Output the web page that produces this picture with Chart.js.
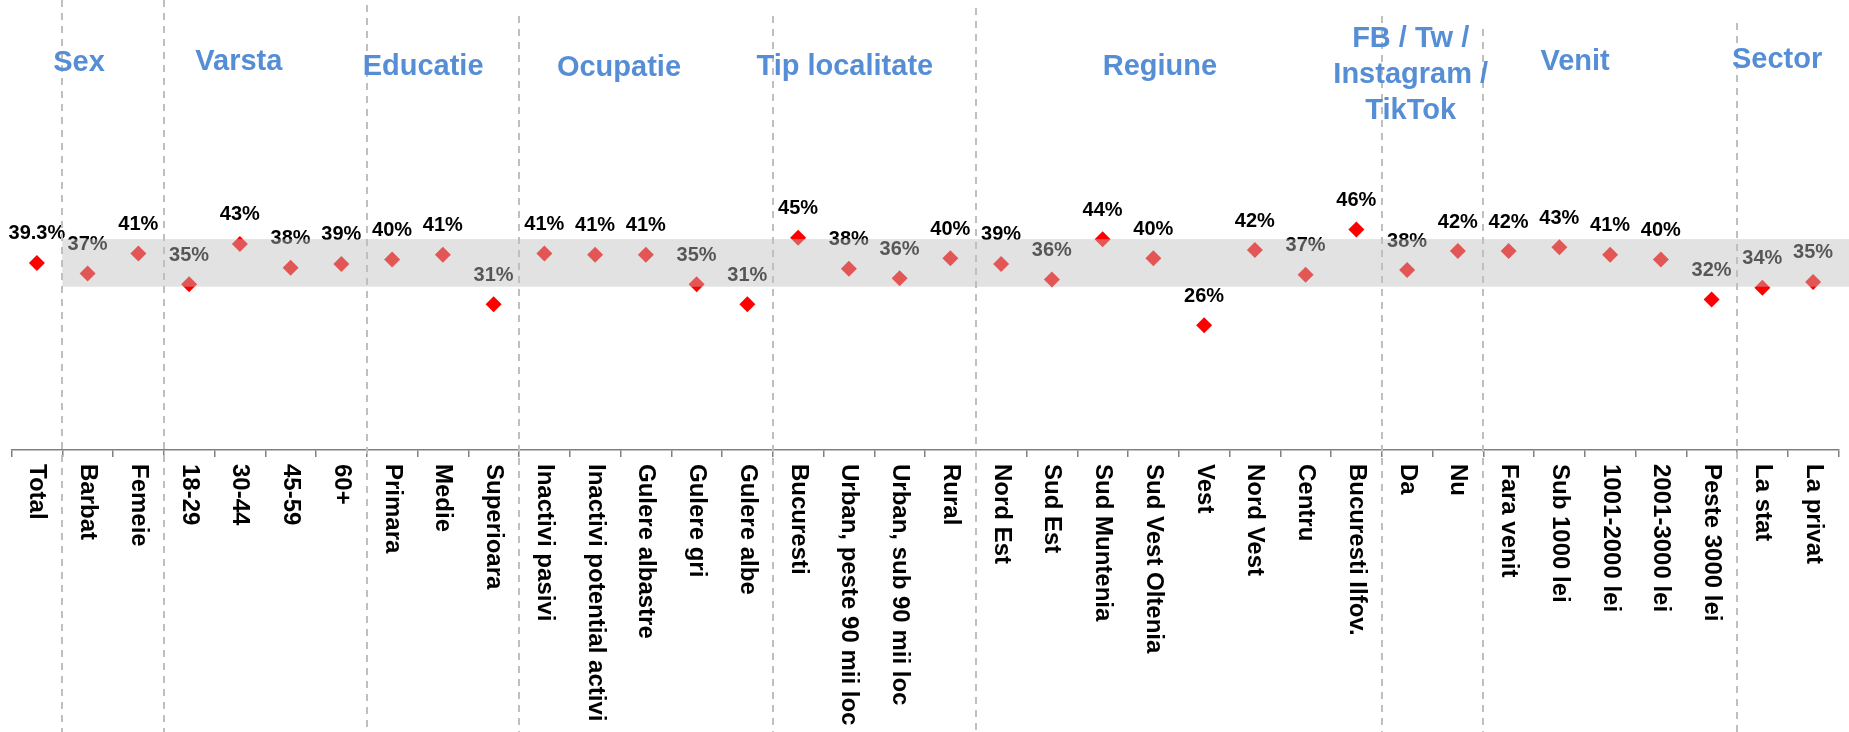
<!DOCTYPE html>
<html><head><meta charset="utf-8">
<script src="https://cdn.jsdelivr.net/npm/chart.js@4/dist/chart.umd.min.js"></script>
<style>html,body{margin:0;padding:0;background:#fff;}#wrap{width:1849px;height:732px;position:relative;}</style>
</head><body><div id="wrap"><canvas id="c"></canvas></div>
<script>
// ---- data ----
const categories = ['Total','Barbat','Femeie','18-29','30-44','45-59','60+','Primara','Medie','Superioara',
  'Inactivi pasivi','Inactivi potential activi','Gulere albastre','Gulere gri','Gulere albe',
  'Bucuresti','Urban, peste 90 mii loc','Urban, sub 90 mii loc','Rural',
  'Nord Est','Sud Est','Sud Muntenia','Sud Vest Oltenia','Vest','Nord Vest','Centru','Bucuresti Ilfov.',
  'Da','Nu','Fara venit','Sub 1000 lei','1001-2000 lei','2001-3000 lei','Peste 3000 lei','La stat','La privat'];
const values = [39.3, 37.1, 41.3, 34.8, 43.3, 38.3, 39.1, 40.0, 41.0, 30.6,
  41.3, 41.0, 41.0, 34.8, 30.6,
  44.6, 38.1, 36.1, 40.3,
  39.1, 35.8, 44.3, 40.3, 26.2, 42.0, 36.8, 46.3,
  37.8, 41.8, 41.8, 42.6, 41.0, 40.0, 31.6, 34.1, 35.3];
const groupTitles = [['Sex'],['Varsta'],['Educatie'],['Ocupatie'],['Tip localitate'],['Regiune'],
  ['FB / Tw /','Instagram /','TikTok'],['Venit'],['Sector']];
const groupSizes = [1, 2, 4, 3, 5, 4, 8, 2, 5, 2]; // first = Total
const bandHalfWidth = 5;

// ---- derived ----
const totalValue = values[0];
const groupBreaks = [];
{ let acc = 0; for (let i = 0; i < groupSizes.length - 1; i++) { acc += groupSizes[i]; groupBreaks.push(acc - 0.5); } }
const fmt = (v, i) => (i === 0 ? v.toFixed(1) : Math.round(v).toString()) + '%';

// ---- layout / style (not data) ----
const titleAnchor = [0.83, 3.98, 7.61, 11.47, 15.92, 22.13, 27.07, 30.31, 34.29];
const titleY = [63, 62, 67, 68, 67, 67, 39, 62, 60];
const breakTop = [0, 0, 5, 16, 16, 8, 16, 29, 23];
const FONT = '"Liberation Sans", Arial, Helvetica, sans-serif';

const overlay = {
  id: 'overlay',
  afterDatasetsDraw(chart) {
    const {ctx, scales: {x, y}, chartArea} = chart;
    const meta = chart.getDatasetMeta(0);
    ctx.save();
    // data labels
    ctx.font = 'bold 20px ' + FONT;
    ctx.textAlign = 'center'; ctx.textBaseline = 'middle'; ctx.fillStyle = '#000';
    meta.data.forEach((pt, i) => ctx.fillText(fmt(values[i], i), pt.x, pt.y - 29));
    // band around total
    const left = x.getPixelForValue(groupBreaks[0]);
    const yTop = y.getPixelForValue(totalValue + bandHalfWidth);
    const yBot = y.getPixelForValue(totalValue - bandHalfWidth);
    ctx.fillStyle = 'rgba(190,190,190,0.45)';
    ctx.fillRect(left, yTop, chart.width - left, yBot - yTop);
    // category labels (rotated clockwise)
    ctx.font = 'bold 24px ' + FONT;
    ctx.textAlign = 'left'; ctx.textBaseline = 'middle'; ctx.fillStyle = '#000';
    categories.forEach((c, i) => {
      ctx.save();
      ctx.translate(x.getPixelForValue(i), chartArea.bottom + 14);
      ctx.rotate(Math.PI / 2);
      ctx.fillText(c, 0, 0);
      ctx.restore();
    });
    // dashed group separators
    ctx.strokeStyle = '#BFBFBF'; ctx.lineWidth = 2; ctx.setLineDash([7, 6]);
    groupBreaks.forEach((b, k) => {
      const px = Math.round(x.getPixelForValue(b));
      ctx.beginPath(); ctx.moveTo(px, breakTop[k]); ctx.lineTo(px, chart.height); ctx.stroke();
    });
    ctx.setLineDash([]);
    // group titles
    ctx.font = 'bold 29px ' + FONT;
    ctx.textAlign = 'center'; ctx.textBaseline = 'middle'; ctx.fillStyle = '#558ED5';
    groupTitles.forEach((lines, k) => {
      const px = x.getPixelForValue(titleAnchor[k]);
      lines.forEach((t, j) => ctx.fillText(t, px, titleY[k] + j * 36));
    });
    ctx.restore();
  }
};

new Chart(document.getElementById('c'), {
  type: 'line',
  data: {
    labels: categories,
    datasets: [{
      data: values,
      showLine: false,
      pointStyle: 'rectRot',
      pointRadius: 8,
      pointHoverRadius: 8,
      backgroundColor: '#FF0000',
      borderColor: '#FF0000',
      borderWidth: 0
    }]
  },
  options: {
    responsive: true,
    maintainAspectRatio: false,
    animation: false,
    events: [],
    layout: { padding: { left: 11.5, right: 10.5, top: 21.6, bottom: 0 } },
    plugins: { legend: { display: false }, tooltip: { enabled: false }, title: { display: false } },
    scales: {
      x: {
        type: 'category',
        offset: true,
        grid: { offset: true, drawOnChartArea: false, drawTicks: true, tickLength: 7, color: '#808080', lineWidth: 1.5 },
        border: { display: true, color: '#808080', width: 1.5 },
        ticks: { display: false },
        afterFit(scale) { scale.height = 282; }
      },
      y: { display: false, min: 0, max: 90 }
    }
  },
  plugins: [overlay]
});
</script></body></html>
